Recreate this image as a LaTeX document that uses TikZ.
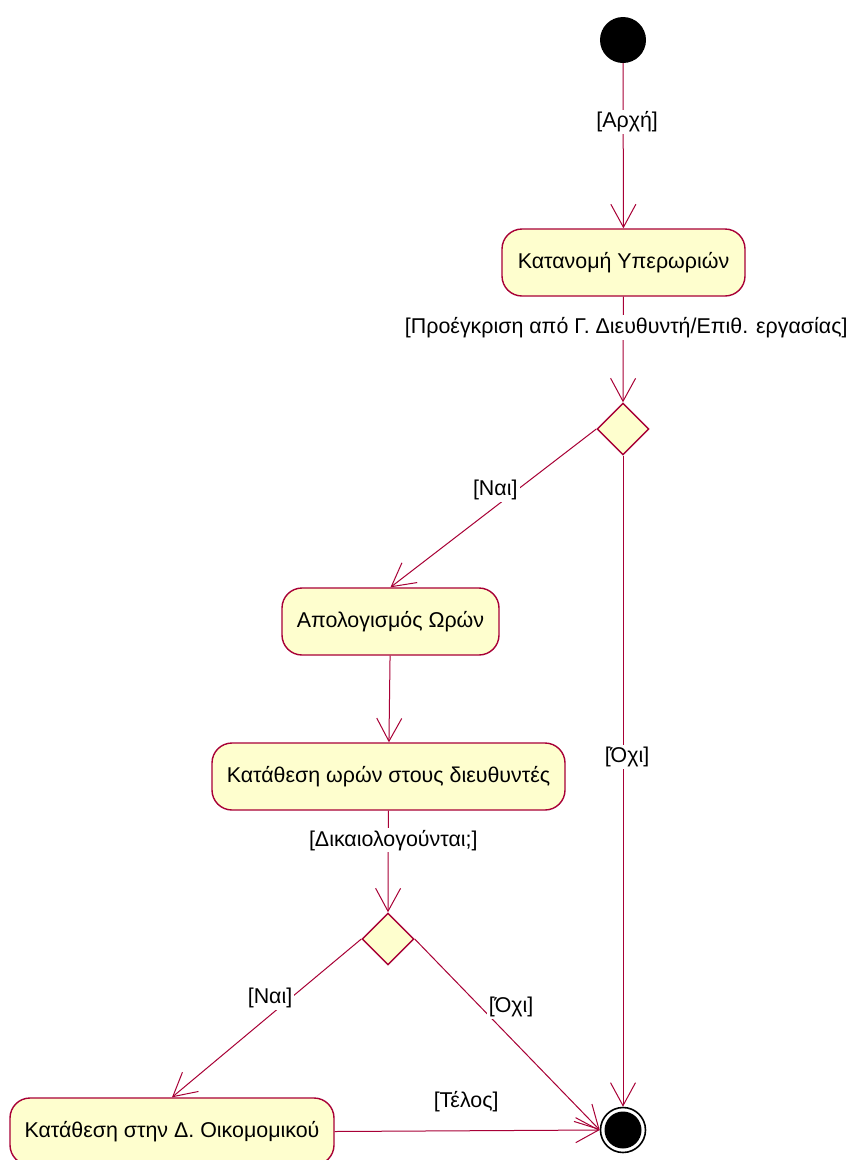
\documentclass[tikz,border=0pt]{standalone}
\usepackage{fontspec}
\setmainfont{Liberation Sans}
\usetikzlibrary{arrows.meta,shapes.geometric}
\definecolor{umlline}{HTML}{A80036}
\definecolor{umlfill}{HTML}{FEFECE}
\tikzset{
  activity/.style={draw=umlline, fill=umlfill, line width=1.4pt, rounded corners=20pt,
    minimum height=67pt, inner sep=0pt, font=\fontsize{21.4}{25}\selectfont},
  decision/.style={draw=umlline, fill=umlfill, line width=1.4pt, diamond, aspect=1,
    minimum width=52pt, minimum height=52pt, inner sep=0pt},
  flow/.style={draw=umlline, line width=1pt, -{Straight Barb[length=23pt,width=25pt]}},
  lbl/.style={fill=white, inner sep=2pt, text=black, font=\fontsize{21.4}{25}\selectfont},
}
\begin{document}
\begin{tikzpicture}[x=1pt,y=-1pt]
\useasboundingbox (0,0) rectangle (851,1160);
\fill[white] (0,0) rectangle (851,1160);
\clip (0,0) rectangle (851,1160);

% start and end points
\node[circle, fill=black, minimum size=46pt, inner sep=0pt] (start) at (623,40) {};
\node[circle, draw=black, line width=1.6pt, fill=white, minimum size=45pt, inner sep=0pt] (end) at (623,1130) {};
\fill[black] (end.center) circle (18.5pt);

% activities
\node[activity, minimum width=243pt] (b1) at (623.5,262.5) {Κατανομή Υπερωριών};
\node[activity, minimum width=217pt] (b2) at (390.5,621.5) {Απολογισμός Ωρών};
\node[activity, minimum width=353pt] (b3) at (388.5,776.5) {Κατάθεση ωρών στους διευθυντές};
\node[activity, minimum width=324pt] (b4) at (172,1131.5) {Κατάθεση στην Δ. Οικομομικού};

% decisions
\node[decision] (d1) at (623,429) {};
\node[decision] (d2) at (388,939) {};

% control flows
\draw[flow] (start) -- (b1) node[lbl, pos=0.355, xshift=4pt] {[Αρχή]};
\draw[flow] (b1) -- (d1.north) node[lbl, pos=0.29, xshift=3pt] {[Προέγκριση από Γ. Διευθυντή/Επιθ. εργασίας]};
\draw[flow] (d1.west) -- (b2.north) node[lbl, pos=0.384, xshift=-22pt] {[Ναι]};
\draw[flow] (d1.south) -- (end.north) node[lbl, pos=0.463, xshift=4pt] {[Όχι]};
\draw[flow] (b2) -- (b3);
\draw[flow] (b3) -- (d2.north) node[lbl, pos=0.29, xshift=5pt] {[Δικαιολογούνται;]};
\draw[flow] (d2.west) -- (b4.north) node[lbl, pos=0.371, xshift=-21pt] {[Ναι]};
\draw[flow] (d2.east) -- (end.west) node[lbl, pos=0.354, xshift=31pt] {[Όχι]};
\draw[flow] (b4.east) -- (end.west) node[lbl, pos=0.496, yshift=29pt] {[Τέλος]};
\end{tikzpicture}
\end{document}
